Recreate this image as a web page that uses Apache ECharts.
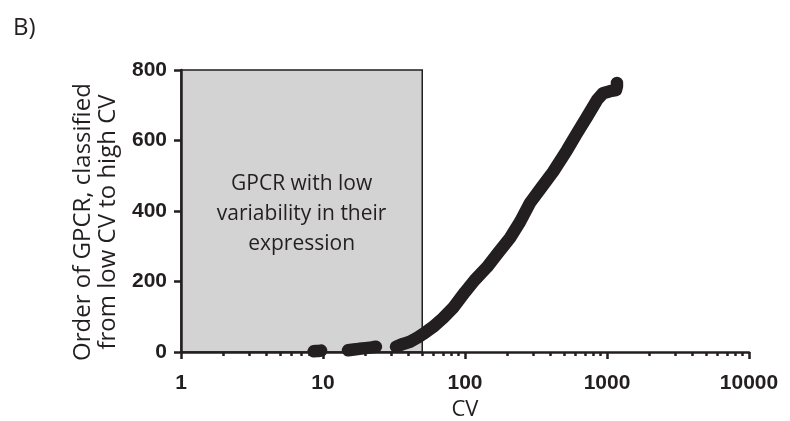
<!DOCTYPE html>
<html>
<head>
<meta charset="utf-8">
<script src="https://cdn.jsdelivr.net/npm/echarts@6/dist/echarts.min.js"></script>
<style>
html,body{margin:0;padding:0;background:#fff;}
#chart{width:790px;height:421px;}
</style>
</head>
<body>
<div id="chart"></div>
<script>
// ---- data ----
const xTickLabels = [1, 10, 100, 1000, 10000];
const xMinorTicks = [2,3,4,5,6,7,8,9,20,30,40,50,60,70,80,90,200,300,400,500,600,700,800,900,2000,3000,4000,5000,6000,7000,8000,9000];
const yTickLabels = [0, 200, 400, 600, 800];

// segment 1 (CV ~9)
const seg1CV   = [8.6, 9.0, 9.4, 9.7];
const seg1Rank = [2, 3, 3, 4];
// segment 2 (CV 15-24)
const seg2CV   = [15.0, 16.5, 18.0, 20.0, 22.0, 23.6];
const seg2Rank = [5, 7, 9, 11, 13, 15];
// segment 3 (CV 33 upward)
const seg3CV   = [32.7, 36.6, 41.0, 45.9, 50.6, 59.5, 70.0, 82.3, 100, 117, 143, 171, 207, 244, 287, 343, 417, 523, 615, 723, 851, 937, 1050, 1157, 1175, 1175];
const seg3Rank = [15, 23, 29, 40, 51, 71, 96, 125, 170, 204, 241, 281, 323, 369, 423, 465, 511, 573, 621, 667, 715, 734, 740, 743, 754, 763];

// low-variability region
const boxCV = [1, 50];
const boxRank = [0, 800];
const boxText = 'GPCR with low\nvariability in their\nexpression';

const zip = (a, b) => a.map((v, i) => [v, b[i]]);
const ink = '#231f20';
const titleFont = '"Open Sans", "Noto Sans", sans-serif';
const tickFont = '"Liberation Sans", Arial, sans-serif';

const lineSeries = (cv, rk) => ({
  type: 'line',
  xAxisIndex: 0, yAxisIndex: 0,
  data: zip(cv, rk),
  showSymbol: false,
  symbol: 'none',
  smooth: false,
  z: 20,
  lineStyle: { color: ink, width: 12.5, cap: 'round', join: 'round' },
  emphasis: { disabled: true },
  animation: false
});

const chart = echarts.init(document.getElementById('chart'));
chart.setOption({
  animation: false,
  backgroundColor: '#ffffff',
  graphic: [{
    type: 'text', left: 13, top: 16,
    style: { text: 'B)', font: '24px ' + titleFont, fill: ink }
  }],
  grid: { left: 181, right: 41, top: 70, bottom: 69, containLabel: false, outerBoundsMode: 'none' },
  xAxis: [{
    type: 'log', logBase: 10, min: 1, max: 10000,
    z: 10,
    name: 'CV', nameLocation: 'middle', nameGap: 45,
    nameTextStyle: { fontFamily: titleFont, fontSize: 22, color: ink },
    axisLine: { show: true, onZero: false, lineStyle: { color: ink, width: 2.5 } },
    axisTick: { show: true, length: 7, inside: false, customValues: xTickLabels, lineStyle: { color: ink, width: 2.5 } },
    axisLabel: { customValues: xTickLabels, formatter: v => String(v), margin: 21, fontFamily: tickFont, fontWeight: 'bold', fontSize: 21, color: ink },
    splitLine: { show: false },
    minorTick: { show: false }
  }, {
    type: 'log', logBase: 10, min: 1, max: 10000,
    position: 'bottom', z: 10,
    axisLine: { show: false },
    axisTick: { show: true, length: 4, customValues: xMinorTicks, lineStyle: { color: ink, width: 2.5 } },
    axisLabel: { show: false },
    splitLine: { show: false }
  }],
  yAxis: [{
    type: 'value', min: 0, max: 800, interval: 200,
    z: 10,
    name: 'Order of GPCR, classified\nfrom low CV to high CV',
    nameLocation: 'middle', nameGap: 53, nameRotate: 90,
    nameTextStyle: { fontFamily: titleFont, fontSize: 24, color: ink, lineHeight: 25, padding: [0, 22, 0, 0] },
    axisLine: { show: true, onZero: false, lineStyle: { color: ink, width: 2.5 } },
    axisTick: { show: true, length: 7, lineStyle: { color: ink, width: 2.5 } },
    axisLabel: { margin: 14, formatter: v => String(v), fontFamily: tickFont, fontWeight: 'bold', fontSize: 21, color: ink,
      customValues: yTickLabels },
    splitLine: { show: false }
  }],
  series: [
    {
      type: 'scatter', xAxisIndex: 0, yAxisIndex: 0, data: [], z: 1,
      markArea: {
        silent: true,
        itemStyle: { color: '#d3d3d3', borderColor: ink, borderWidth: 1.5 },
        label: {
          show: true, position: 'inside', formatter: boxText, offset: [0, 3],
          fontFamily: titleFont, fontSize: 21, lineHeight: 30, color: ink, align: 'center'
        },
        data: [[{ coord: [boxCV[0], boxRank[0]] }, { coord: [boxCV[1], boxRank[1]] }]]
      }
    },
    lineSeries(seg1CV, seg1Rank),
    lineSeries(seg2CV, seg2Rank),
    lineSeries(seg3CV, seg3Rank)
  ]
});
</script>
</body>
</html>
